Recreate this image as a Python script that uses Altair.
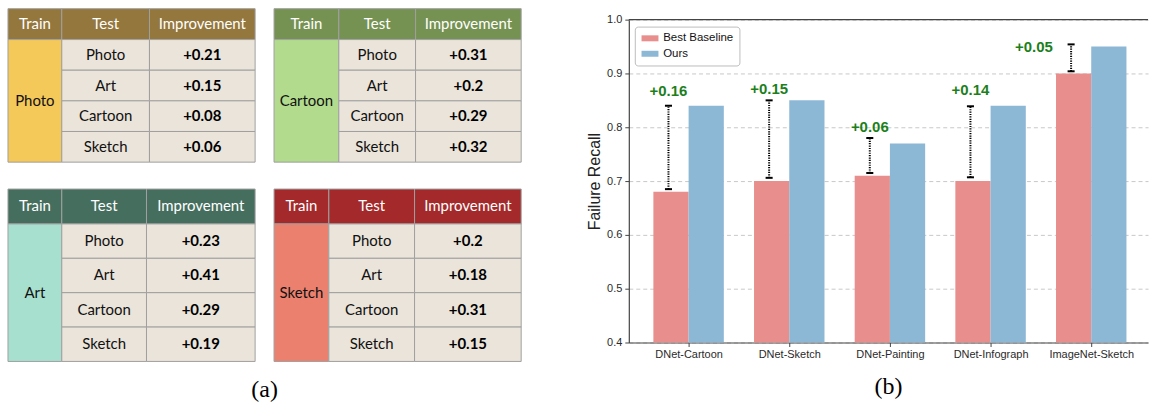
import altair as alt
import pandas as pd

# ---------------- data ----------------
tests = ["Photo", "Art", "Cartoon", "Sketch"]
photo_imp = [0.21, 0.15, 0.08, 0.06]
cartoon_imp = [0.31, 0.2, 0.29, 0.32]
art_imp = [0.23, 0.41, 0.29, 0.19]
sketch_imp = [0.2, 0.18, 0.31, 0.15]
headers = ["Train", "Test", "Improvement"]

groups = ["DNet-Cartoon", "DNet-Sketch", "DNet-Painting", "DNet-Infograph", "ImageNet-Sketch"]
baseline = [0.68, 0.70, 0.71, 0.70, 0.90]
ours = [0.84, 0.85, 0.77, 0.84, 0.95]
err_low = [0.685, 0.706, 0.715, 0.707, 0.904]
err_high = [0.84, 0.85, 0.78, 0.839, 0.954]
gain_labels = ["+0.16", "+0.15", "+0.06", "+0.14", "+0.05"]
label_y = [0.867, 0.871, 0.80, 0.87, 0.95]
series = ["Best Baseline", "Ours"]

# ---------------- style ----------------
BODY = "#EAE4DA"
BORDER = "#A0A0A0"
TFONT = "Lato"
TSIZE = 15
RED = "#E88F8D"
BLUE = "#8CB8D6"
GREEN = "#1C7F1C"
SANS = "Liberation Sans"


def make_table(train, imps, head_col, side_col, col_w, height, head_h):
    W = sum(col_w)
    xs = [0, col_w[0], col_w[0] + col_w[1], W]
    row_h = (height - head_h) / 4
    cells = []
    for j, name in enumerate(headers):
        cells.append(dict(x=xs[j], x2=xs[j + 1], y=0, y2=head_h, fill=head_col,
                          text=name, tcol="white", bold=False))
    cells.append(dict(x=0, x2=xs[1], y=head_h, y2=height, fill=side_col,
                      text=train, tcol="#111111", bold=False))
    for i, (t, v) in enumerate(zip(tests, imps)):
        y0 = head_h + i * row_h
        y1 = y0 + row_h
        cells.append(dict(x=xs[1], x2=xs[2], y=y0, y2=y1, fill=BODY,
                          text=t, tcol="#111111", bold=False))
        cells.append(dict(x=xs[2], x2=xs[3], y=y0, y2=y1, fill=BODY,
                          text=f"+{v:g}", tcol="#000000", bold=True))
    df = pd.DataFrame(cells)
    df["xc"] = (df["x"] + df["x2"]) / 2
    df["yc"] = (df["y"] + df["y2"]) / 2

    xs_ = alt.Scale(domain=[0, W], nice=False, zero=False)
    ys_ = alt.Scale(domain=[0, height], nice=False, zero=False, reverse=True)
    base = alt.Chart(df)
    rect = base.mark_rect(stroke=BORDER, strokeWidth=1).encode(
        x=alt.X("x:Q", scale=xs_, axis=None), x2="x2:Q",
        y=alt.Y("y:Q", scale=ys_, axis=None), y2="y2:Q",
        fill=alt.Fill("fill:N", scale=None),
    )
    txt_n = base.transform_filter("!datum.bold").mark_text(
        font=TFONT, fontSize=TSIZE, baseline="middle", align="center").encode(
        x=alt.X("xc:Q", scale=xs_, axis=None),
        y=alt.Y("yc:Q", scale=ys_, axis=None),
        text="text:N", color=alt.Color("tcol:N", scale=None))
    txt_b = base.transform_filter("datum.bold").mark_text(
        font=TFONT, fontSize=TSIZE, fontWeight="bold", baseline="middle", align="center").encode(
        x=alt.X("xc:Q", scale=xs_, axis=None),
        y=alt.Y("yc:Q", scale=ys_, axis=None),
        text="text:N", color=alt.Color("tcol:N", scale=None))
    return alt.layer(rect, txt_n, txt_b).properties(width=W, height=height)


t1 = make_table("Photo", photo_imp, "#94773D", "#F5C85A", [54, 88, 106], 154, 31)
t2 = make_table("Cartoon", cartoon_imp, "#769253", "#B2DB8E", [65, 77, 106], 154, 31)
t3 = make_table("Art", art_imp, "#456E5E", "#A8E0D0", [54, 85, 109], 173, 35)
t4 = make_table("Sketch", sketch_imp, "#A3292A", "#EC806E", [55, 86, 107], 173, 35)

left = alt.vconcat(
    alt.hconcat(t1, t2, spacing=17),
    alt.hconcat(t3, t4, spacing=17),
    spacing=25,
).properties(title=alt.TitleParams(text="(a)", orient="bottom", anchor="middle",
                                   font="Liberation Serif", fontSize=24,
                                   fontWeight="normal", offset=16, color="black"))

# ---------------- bar chart ----------------
BW = 0.35
rows = []
for i, g in enumerate(groups):
    rows.append(dict(i=i, series=series[0], value=baseline[i], x0=i - BW, x1=i))
    rows.append(dict(i=i, series=series[1], value=ours[i], x0=i, x1=i + BW))
bars_df = pd.DataFrame(rows)

err_df = pd.DataFrame(dict(i=list(range(len(groups))), lo=err_low, hi=err_high,
                           lab=gain_labels, ly=label_y))
err_df["ex"] = err_df["i"] - 0.2
err_df["cl"] = err_df["ex"] - 0.035
err_df["cr"] = err_df["ex"] + 0.035
err_df["lx"] = err_df["ex"] + (err_df["i"] == len(groups) - 1) * -0.37

XMIN, XMAX = -0.594, 4.564
PW, PH = 521, 335
xscale = alt.Scale(domain=[XMIN, XMAX], nice=False, zero=False)
yscale = alt.Scale(domain=[0.4, 1.0], range=[PH, 11], nice=False, zero=False)

label_expr = "[" + ",".join(f"'{g}'" for g in groups) + "][datum.value]"

xaxis = alt.Axis(values=list(range(len(groups))), labelExpr=label_expr, title=None,
                 grid=False, tickSize=4, labelPadding=2, labelFont=SANS,
                 labelFontSize=11, labelColor="#2a2a2a", domainColor="#444444",
                 tickColor="#444444", domainWidth=1.2)
yaxis = alt.Axis(values=[0.4, 0.5, 0.6, 0.7, 0.8, 0.9, 1.0], format=".1f",
                 title="Failure Recall", titleFont=SANS, titleFontSize=16,
                 titleFontWeight="normal", titleColor="#222222", titlePadding=4,
                 grid=True, gridDash=[4, 3], gridColor="#BBBBBB", gridWidth=0.8,
                 tickSize=4, labelPadding=3, labelFont=SANS, labelFontSize=11,
                 labelColor="#2a2a2a", domainColor="#444444", tickColor="#444444",
                 domainWidth=1.2)


def X(f):
    return alt.X(f, scale=xscale, axis=xaxis, title=None)


def Y(f):
    return alt.Y(f, scale=yscale, axis=yaxis, title="Failure Recall")


bars = alt.Chart(bars_df).mark_bar().encode(
    x=X("x0:Q"), x2="x1:Q",
    y=Y("value:Q"), y2=alt.Y2(datum=0.4),
    color=alt.Color("series:N", scale=alt.Scale(domain=series, range=[RED, BLUE]),
                    legend=alt.Legend(title=None, orient="none", legendX=6, legendY=18,
                                      symbolType="M-1,-0.6H2.4V0.6H-1Z", symbolSize=100,
                                      symbolStrokeWidth=0, labelFont=SANS, labelFontSize=11.5,
                                      labelColor="#111111", labelOffset=11, rowPadding=2.5,
                                      padding=6, strokeColor="#BDBDBD", fillColor="white",
                                      cornerRadius=3)),
)

ebase = alt.Chart(err_df)
err_line = ebase.mark_rule(color="black", strokeWidth=2, strokeDash=[1.2, 1.2]).encode(
    x=X("ex:Q"), y=Y("lo:Q"), y2="hi:Q")
cap_lo = ebase.mark_rule(color="black", strokeWidth=2).encode(
    x=X("cl:Q"), x2="cr:Q", y=Y("lo:Q"))
cap_hi = ebase.mark_rule(color="black", strokeWidth=2).encode(
    x=X("cl:Q"), x2="cr:Q", y=Y("hi:Q"))
labels = ebase.mark_text(font=SANS, fontSize=15, fontWeight="bold", color=GREEN,
                         baseline="middle", align="center").encode(
    x=X("lx:Q"), y=Y("ly:Q"), text="lab:N")
top_spine = alt.Chart(pd.DataFrame(dict(a=[XMIN], b=[XMAX], c=[1.0]))).mark_rule(
    color="#444444", strokeWidth=1.2).encode(
    x=X("a:Q"), x2="b:Q", y=Y("c:Q"))

right = alt.layer(bars, err_line, cap_lo, cap_hi, labels, top_spine).properties(
    width=PW, height=PH,
    title=alt.TitleParams(text="(b)", orient="bottom", anchor="middle",
                          font="Liberation Serif", fontSize=24, fontWeight="normal",
                          offset=16, color="black"))

chart = alt.hconcat(left, right, spacing=64).properties(
    padding={"left": 7, "top": 7, "right": 0, "bottom": 0},
    background="white",
).resolve_scale(color="independent").resolve_legend(color="independent").configure_view(stroke=None)

chart.save("out.html", embed_options={"renderer": "svg", "actions": False})
